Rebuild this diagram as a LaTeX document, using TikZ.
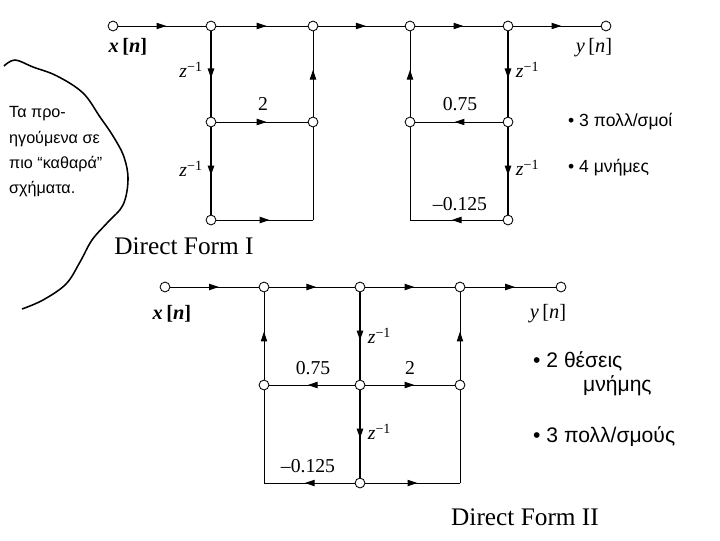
\documentclass[tikz,border=0pt]{standalone}
\usepackage{fontspec}
\setmainfont{Liberation Serif}
\newfontfamily\handfont{Liberation Sans}
\usetikzlibrary{arrows.meta, decorations.markings, positioning}

\newcommand{\zinv}{\textit{z}\raisebox{0.6ex}{\fontsize{10}{12}\selectfont −1}}

\tikzset{
  sfnode/.style={circle, draw, fill=white, inner sep=0pt, minimum size=7pt, line width=0.6pt},
  flow/.style={postaction={decorate}, decoration={markings, mark=at position 0.55 with {\arrow{Triangle[length=7pt,width=4.5pt]}}}},
  delay/.style={line width=1.2pt},
  sig/.style={font=\fontsize{14.5}{17}\selectfont},
  gain/.style={font=\fontsize{14}{17}\selectfont},
  zlab/.style={font=\fontsize{14}{16}\selectfont, inner sep=1pt},
  title/.style={font=\fontsize{18}{21}\selectfont},
  note/.style={font=\handfont\fontsize{12.5}{15}\selectfont, anchor=west},
  cloudnote/.style={font=\handfont\fontsize{11.5}{14}\selectfont, anchor=west},
  bignote/.style={font=\handfont\fontsize{15}{18}\selectfont, anchor=west},
}

\begin{document}
\begin{tikzpicture}[x=0.025cm, y=-0.025cm, line width=0.7pt]
  \useasboundingbox (0,0) rectangle (720,540);

  % Direct Form I
  \node[sfnode] (xinI) at (113,26) {};
  \node[sfnode] (a1) at (211,26) {};
  \node[sfnode] (a2) at (211,122) {};
  \node[sfnode] (a3) at (211,220) {};
  \node[sfnode] (b1) at (313,26) {};
  \node[sfnode] (b2) at (313,122) {};
  \coordinate (b3) at (313,220);
  \node[sfnode] (c1) at (410,26) {};
  \node[sfnode] (c2) at (410,122) {};
  \coordinate (c3) at (410,220);
  \node[sfnode] (d1) at (508,26) {};
  \node[sfnode] (d2) at (508,122) {};
  \node[sfnode] (d3) at (508,220) {};
  \node[sfnode] (youtI) at (606,26) {};

  \draw[flow] (xinI) -- (a1);
  \draw[flow] (a1) -- (b1);
  \draw[flow] (b1) -- (c1);
  \draw[flow] (c1) -- (d1);
  \draw[flow] (d1) -- (youtI);
  \draw[flow, delay] (a1) -- (a2);
  \draw[flow, delay] (a2) -- (a3);
  \draw[flow] (a2) -- (b2);
  \draw[flow] (a3) -- (b3);
  \draw (b3) -- (b2);
  \draw[flow] (b2) -- (b1);
  \draw[flow, delay] (d1) -- (d2);
  \draw[flow, delay] (d2) -- (d3);
  \draw[flow] (d2) -- (c2);
  \draw[flow] (d3) -- (c3);
  \draw (c3) -- (c2);
  \draw[flow] (c2) -- (c1);

  \node[sig] (xlabI) at (128,47) {\textbf{\textit{x}\,[\textit{n}]}};
  \node[sig] (ylabI) at (594,48) {\textit{y}\,[\textit{n}]};
  \node[zlab, anchor=east] (zI1) at (204,70) {\zinv};
  \node[zlab, anchor=east] (zI2) at (204,169) {\zinv};
  \node[zlab, anchor=west] (zI3) at (514,70) {\zinv};
  \node[zlab, anchor=west] (zI4) at (514,168) {\zinv};
  \node[gain] (gI1) at (263,104) {2};
  \node[gain] (gI2) at (460,104) {0.75};
  \node[gain] (gI3) at (460,204) {–0.125};
  \node[title] (tI) at (184,246) {Direct Form I};

  % Direct Form II
  \node[sfnode] (xinII) at (165,287) {};
  \node[sfnode] (e1) at (264,287) {};
  \node[sfnode] (e2) at (264,385) {};
  \coordinate (e3) at (264,483);
  \node[sfnode] (f1) at (360,287) {};
  \node[sfnode] (f2) at (360,385) {};
  \node[sfnode] (f3) at (360,483) {};
  \node[sfnode] (g1) at (460,287) {};
  \node[sfnode] (g2) at (460,385) {};
  \coordinate (g3) at (460,483);
  \node[sfnode] (youtII) at (561,287) {};

  \draw[flow] (xinII) -- (e1);
  \draw[flow] (e1) -- (f1);
  \draw[flow] (f1) -- (g1);
  \draw[flow] (g1) -- (youtII);
  \draw[flow, delay] (f1) -- (f2);
  \draw[flow, delay] (f2) -- (f3);
  \draw[flow] (f2) -- (e2);
  \draw[flow] (f2) -- (g2);
  \draw[flow] (f3) -- (e3);
  \draw[flow] (f3) -- (g3);
  \draw (e3) -- (e2);
  \draw (g3) -- (g2);
  \draw[flow] (e2) -- (e1);
  \draw[flow] (g2) -- (g1);

  \node[sig] (xlabII) at (172,314) {\textbf{\textit{x}\,[\textit{n}]}};
  \node[sig] (ylabII) at (548,314) {\textit{y}\,[\textit{n}]};
  \node[zlab, anchor=west] (zII1) at (366,336) {\zinv};
  \node[zlab, anchor=west] (zII2) at (366,432) {\zinv};
  \node[gain] (gII1) at (313,368) {0.75};
  \node[gain] (gII2) at (410,368) {2};
  \node[gain] (gII3) at (308,466) {–0.125};
  \node[title] (tII) at (525,517) {Direct Form II};

  % handwritten notes
  \draw[line width=1.1pt] plot[smooth, tension=0.6] coordinates {(4,66) (15,60) (33,67) (57,76) (83,93) (100,117) (113,136) (124,157) (128,180) (123,205) (108,222) (92,240) (80,262) (66,284) (43,300) (22,309)};
  \node[cloudnote] (cl1) at (4,114) {Τα προ-};
  \node[cloudnote] (cl2) at (4,139) {ηγούμενα σε};
  \node[cloudnote] (cl3) at (4,164) {πιο “καθαρά”};
  \node[cloudnote] (cl4) at (4,189) {σχήματα.};
  \node[note] (nI1) at (563,122) {• 3 πολλ/σμοί};
  \node[note] (nI2) at (563,168) {• 4 μνήμες};
  \node[bignote] (nII1) at (528,361) {• 2 θέσεις};
  \node[bignote] (nII2) at (578,386) {μνήμης};
  \node[bignote] (nII3) at (528,437) {• 3 πολλ/σμούς};
\end{tikzpicture}
\end{document}
